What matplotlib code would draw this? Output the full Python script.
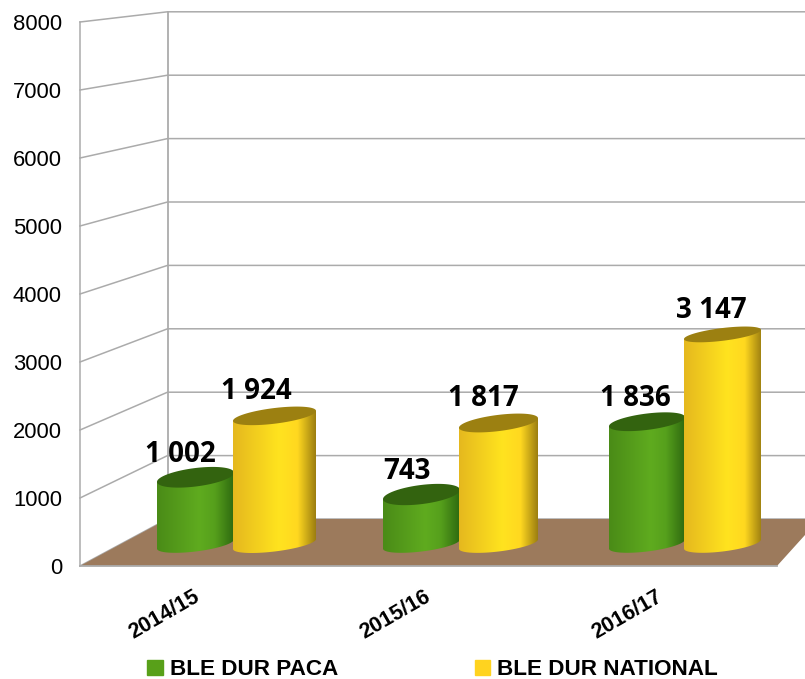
import numpy as np
import matplotlib
matplotlib.use("Agg")
import matplotlib.pyplot as plt
from matplotlib.colors import LinearSegmentedColormap
from matplotlib.patches import Patch, Polygon, PathPatch
from matplotlib.path import Path
from matplotlib.transforms import ScaledTranslation

categories = ["2014/15", "2015/16", "2016/17"]
paca = [1002, 743, 1836]
national = [1924, 1817, 3147]
paca_labels = ["1 002", "743", "1 836"]
national_labels = ["1 924", "1 817", "3 147"]
y_ticks = [0, 1000, 2000, 3000, 4000, 5000, 6000, 7000, 8000]

W, H = 805, 679
STEP = 225.5     # px between groups
X0 = 233         # px of first group
Y0 = 544         # px of value 0 at bar centre
PX_PER_UNIT = 0.0666
GRID = "#ABABAB"

def gx(px):
    return (px - X0) / STEP

def gy(px):
    return (Y0 - px) / PX_PER_UNIT

fig = plt.figure(figsize=(W / 100, H / 100), dpi=100)
ax = fig.add_axes([0, 0, 1, 1])
xlim = (gx(0), gx(W))
ylim = (gy(H), gy(0))
ax.axis("off")

# walls and floor
for v in y_ticks:
    front = 566 - v * 0.068
    back = 519 - v * 0.0634
    ax.plot([gx(80), gx(167.5), gx(W)], [gy(front), gy(back), gy(back)], color=GRID, lw=1.1, zorder=1)
ax.plot([gx(167.5), gx(167.5)], [gy(519), gy(12)], color=GRID, lw=1.3, zorder=1)
floor = [(80, 566), (167.5, 519), (W, 519), (W, 535), (777, 566)]
ax.add_patch(Polygon([(gx(a), gy(b)) for a, b in floor], closed=True, fc="#9C7A5C", ec="none", zorder=2))
ax.plot([gx(80), gx(777)], [gy(566), gy(566)], color=GRID, lw=1.3, zorder=2)

cmap_green = LinearSegmentedColormap.from_list("g", [(0, "#4A8B17"), (0.55, "#5FAB1F"), (0.75, "#56A01C"), (1, "#2F6A10")])
cmap_yellow = LinearSegmentedColormap.from_list("y", [(0, "#E5B81E"), (0.55, "#FFE31F"), (0.78, "#FFD820"), (1, "#9C7E10")])

def cylinder(left_px, width_px, value, cmap, top_color, z):
    a = width_px / 2
    tilt = width_px * 0.06
    # top face gets flatter the higher the bar is, base stays at the same roundness
    half_top = (23 - 0.0023 * value) / 2
    minor_top = np.sqrt(max(half_top ** 2 - tilt ** 2, 1))
    minor_base = 7.5
    cx = gx(left_px + a)
    t = np.linspace(0, 2 * np.pi, 121)
    ex = cx + (a * np.cos(t)) / STEP
    e_off = (tilt * np.cos(t) - minor_top * np.sin(t)) / PX_PER_UNIT  # y up
    t_low = np.linspace(0, np.pi, 61)
    low_x = cx + (a * np.cos(t_low)) / STEP
    low_y = (tilt * np.cos(t_low) - minor_base * np.sin(t_low)) / PX_PER_UNIT
    up_x = cx + (a * np.cos(t_low[::-1])) / STEP
    up_y = value + (tilt * np.cos(t_low[::-1])) / PX_PER_UNIT
    body = np.column_stack([np.r_[low_x, up_x], np.r_[low_y, up_y]])
    clip = PathPatch(Path(np.vstack([body, body[0]])), fc="none", ec="none", transform=ax.transData)
    ax.add_patch(clip)
    grad = np.linspace(0, 1, 256).reshape(1, -1)
    im = ax.imshow(grad, cmap=cmap, aspect="auto", zorder=z, interpolation="bilinear",
                   extent=(cx - a / STEP, cx + a / STEP, gy(Y0 + 20), value + gy(Y0 - 20)))
    im.set_clip_path(clip)
    ax.fill(ex, value + e_off, color=top_color, lw=0, zorder=z + 0.1)

green_left = [157, 383, 609]
green_width = [77, 77, 76]
yellow_left = [233, 459, 684]
yellow_width = [83, 79, 77]
paca_label_px = [180, 407, 635]
national_label_px = [256, 483, 711]
cat_label_px = [164, 395, 627]

label_font = dict(family="Open Sans", fontweight="bold", fontsize=20, ha="center", va="center", color="black", zorder=10)
for i in range(len(categories)):
    cylinder(green_left[i], green_width[i], paca[i], cmap_green, "#33630F", 3)
    cylinder(yellow_left[i], yellow_width[i], national[i], cmap_yellow, "#9C8011", 4)
    ax.text(gx(paca_label_px[i]), paca[i] + 23 / PX_PER_UNIT, paca_labels[i], **label_font)
    ax.text(gx(national_label_px[i]), national[i] + 24 / PX_PER_UNIT, national_labels[i], **label_font)
    ax.text(gx(cat_label_px[i]), gy(615), categories[i], family="Liberation Sans", fontweight="bold",
            fontsize=15.5, rotation=30, ha="center", va="center", rotation_mode="anchor", color="black")

ax.set_xlim(xlim)
ax.set_ylim(ylim)

# value axis on the front wall
ax_wall = fig.add_axes([80 / W, (H - 566) / H, 0.001, (566 - 22) / H], zorder=5)
ax_wall.patch.set_visible(False)
ax_wall.set_ylim(0, 8000)
ax_wall.set_yticks(y_ticks)
ax_wall.set_xticks([])
ax_wall.tick_params(axis="y", length=0, pad=13)
shift = ScaledTranslation(0, -3 / 100, fig.dpi_scale_trans)
for lab in ax_wall.get_yticklabels():
    lab.set_family("Liberation Sans")
    lab.set_fontsize(15.8)
    lab.set_verticalalignment("center")
    lab.set_transform(lab.get_transform() + shift)
for s in ["top", "right", "bottom"]:
    ax_wall.spines[s].set_visible(False)
ax_wall.spines["left"].set_color(GRID)
ax_wall.spines["left"].set_linewidth(1.1)

handles = [Patch(color="#58A019", label="BLE DUR PACA"), Patch(color="#FFD31F", label="BLE DUR NATIONAL")]
fig.legend(handles=handles, loc="lower left", bbox_to_anchor=(147 / W, -0.002), ncol=2, frameon=False,
           prop=dict(family="Liberation Sans", weight="bold", size=16.2), handlelength=0.7, handleheight=0.7,
           handletextpad=0.3, columnspacing=6.08, borderpad=0, borderaxespad=0)

fig.savefig("out.png", dpi=100)
